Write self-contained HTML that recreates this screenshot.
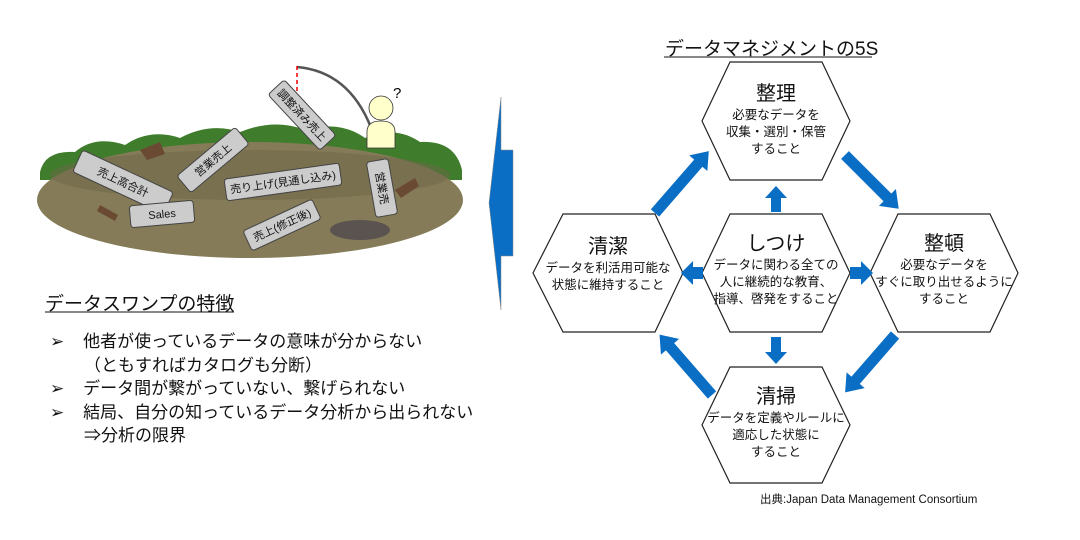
<!DOCTYPE html>
<html><head><meta charset="utf-8"><style>
body{margin:0;width:1080px;height:540px;background:#fff;overflow:hidden;position:relative;font-family:"Liberation Sans","Noto Sans CJK JP",sans-serif;color:#111}
.t{position:absolute;white-space:nowrap}
</style></head><body>
<svg width="1080" height="540" style="position:absolute;left:0;top:0" font-family="Liberation Sans, Noto Sans CJK JP, sans-serif">
<g>
<path d="M40,172 Q45,150 75,152 Q95,135 125,145 Q150,128 180,138 Q210,122 240,132 Q275,118 305,130 Q340,120 365,138 Q395,125 420,142 Q455,140 462,170 L462,180 L40,180Z" fill="#3f7d2c"/>
<ellipse cx="250" cy="200" rx="213" ry="58" fill="#857b58"/>
<ellipse cx="250" cy="175" rx="200" ry="25" fill="#6e6648" opacity=".5"/>
<ellipse cx="360" cy="230" rx="30" ry="10" fill="#5b5350"/>
<path d="M140,150 l20,-8 l5,12 l-18,6z" fill="#6a4a32"/>
<path d="M395,190 l20,-12 l4,8 l-18,12z" fill="#6a4a32"/>
<path d="M100,205 l18,10 l-3,6 l-18,-10z" fill="#6a4a32"/>
</g>
<path d="M297,67 Q355,72 376,142" stroke="#555" stroke-width="2.5" fill="none"/>
<line x1="297" y1="66" x2="297" y2="100" stroke="#e00" stroke-width="1.5" stroke-dasharray="4,3"/>
<circle cx="297" cy="100" r="2.5" fill="#e00"/>
<path d="M367,148 L367,132 Q367,121 381,121 Q395,121 395,132 L395,148Z" fill="#ffffcc" stroke="#333" stroke-width=".8"/>
<circle cx="381" cy="108" r="12" fill="#ffffcc" stroke="#333" stroke-width=".8"/>
<text x="393" y="98" font-size="15">?</text>
<g font-size="11" text-anchor="middle" fill="#111">
<g transform="translate(302,115) rotate(47)"><rect x="-38" y="-11" width="76" height="22" rx="3" fill="#ccc" stroke="#444"/><text y="4">調整済み売上</text></g>
<g transform="translate(123,182) rotate(25)"><rect x="-50" y="-12" width="100" height="24" rx="3" fill="#ccc" stroke="#444"/><text y="4">売上高合計</text></g>
<g transform="translate(213,160) rotate(-40)"><rect x="-38" y="-11" width="76" height="22" rx="3" fill="#ccc" stroke="#444"/><text y="4">営業売上</text></g>
<g transform="translate(283,182) rotate(-8)"><rect x="-58" y="-11" width="116" height="22" rx="3" fill="#ccc" stroke="#444"/><text y="4">売り上げ(見通し込み)</text></g>
<g transform="translate(162,214) rotate(-5)"><rect x="-32" y="-11" width="64" height="22" rx="3" fill="#ccc" stroke="#444"/><text y="4">Sales</text></g>
<g transform="translate(282,225) rotate(-25)"><rect x="-38" y="-11" width="76" height="22" rx="3" fill="#ccc" stroke="#444"/><text y="4">売上(修正後)</text></g>
<g transform="translate(382,188) rotate(80)"><rect x="-28" y="-11" width="56" height="22" rx="3" fill="#ccc" stroke="#444"/><text y="4">営業売</text></g>
</g>
<path d="M501,97 L501,150 L513,150 L513,256 L501,256 L501,310 L489,203Z" fill="#0a6ec5" stroke="#888" stroke-width=".5"/>
<g fill="#fff" stroke="#222" stroke-width="1.2">
<polygon points="702,121 730,62 822,62 850,121 822,180 730,180"/>
<polygon points="533,273 563,214 655,214 683,273 655,332 563,332"/>
<polygon points="702,273 730,214 822,214 850,273 822,332 730,332"/>
<polygon points="870,273 898,214 990,214 1018,273 990,332 898,332"/>
<polygon points="702,425 730,367 822,367 850,425 822,483 730,483"/>
</g>
<g fill="#0a6ec5">
<g transform="translate(655,213) rotate(-49)"><rect x="0" y="-5.5" width="68" height="11"/><polygon points="66,-12 82,0 66,12"/></g>
<g transform="translate(845,155) rotate(45)"><rect x="0" y="-5.5" width="62" height="11"/><polygon points="60,-12 76,0 60,12"/></g>
<g transform="translate(895,335) rotate(131)"><rect x="0" y="-5.5" width="62" height="11"/><polygon points="60,-12 76,0 60,12"/></g>
<g transform="translate(712,395) rotate(-131)"><rect x="0" y="-5.5" width="66" height="11"/><polygon points="64,-12 80,0 64,12"/></g>
<polygon points="771,212 781,212 781,198 787,198 776,186 765,198 771,198"/>
<polygon points="771,337 781,337 781,352 787,352 776,364 765,352 771,352"/>
<polygon points="703,267 703,279 693,279 693,285 681,273 693,261 693,267"/>
<polygon points="850,267 850,279 861,279 861,285 873,273 861,261 861,267"/>
</g>
<line x1="664" y1="57" x2="872" y2="57" stroke="#111" stroke-width="1"/>
<line x1="45" y1="312" x2="234" y2="312" stroke="#111" stroke-width="1"/>
</svg>
<div class="t" style="left:665px;top:34px;font-size:19px">データマネジメントの5S</div>
<div class="t" style="left:45px;top:289px;font-size:19px">データスワンプの特徴</div>
<div class="t" style="left:50px;top:330px;font-size:17px;line-height:23.5px">
<div>➢&nbsp;&nbsp;&nbsp;&nbsp;他者が使っているデータの意味が分からない</div>
<div style="padding-left:34px">（ともすればカタログも分断）</div>
<div>➢&nbsp;&nbsp;&nbsp;&nbsp;データ間が繋がっていない、繋げられない</div>
<div>➢&nbsp;&nbsp;&nbsp;&nbsp;結局、自分の知っているデータ分析から出られない</div>
<div style="padding-left:34px">⇒分析の限界</div>
</div>
<div class="t" style="left:702px;width:148px;top:82px;text-align:center;font-size:12.5px;line-height:17px"><div style="font-size:20px;line-height:25px">整理</div>必要なデータを<br>収集・選別・保管<br>すること</div>
<div class="t" style="left:533px;width:150px;top:235px;text-align:center;font-size:12.5px;line-height:17px"><div style="font-size:20px;line-height:25px">清潔</div>データを利活用可能な<br>状態に維持すること</div>
<div class="t" style="left:702px;width:148px;top:232px;text-align:center;font-size:12.5px;line-height:17px"><div style="font-size:20px;line-height:25px">しつけ</div>データに関わる全ての<br>人に継続的な教育、<br>指導、啓発をすること</div>
<div class="t" style="left:870px;width:148px;top:232px;text-align:center;font-size:12.5px;line-height:17px"><div style="font-size:20px;line-height:25px">整頓</div>必要なデータを<br>すぐに取り出せるように<br>すること</div>
<div class="t" style="left:702px;width:148px;top:385px;text-align:center;font-size:12.5px;line-height:17px"><div style="font-size:20px;line-height:25px">清掃</div>データを定義やルールに<br>適応した状態に<br>すること</div>
<div class="t" style="left:760px;top:491px;font-size:11.5px">出典:Japan Data Management Consortium</div>
</body></html>
